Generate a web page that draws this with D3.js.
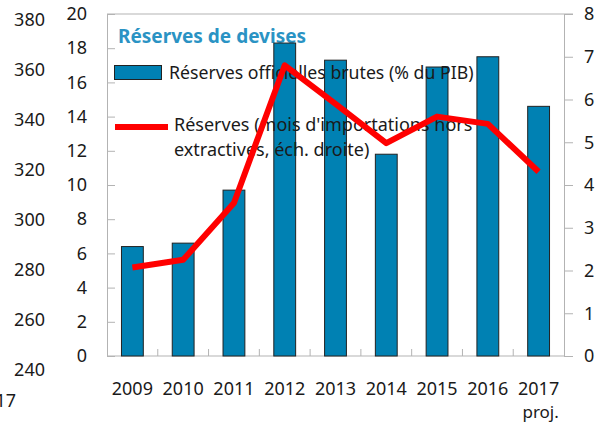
<!DOCTYPE html>
<html><head><meta charset="utf-8">
<script src="https://cdn.jsdelivr.net/npm/d3@7"></script>
<style>
html,body{margin:0;padding:0;background:#fff;}
svg{display:block;font-family:"Noto Sans",sans-serif;}
</style></head>
<body>
<svg id="c" width="597" height="425"></svg>
<script>
const years = ["2009","2010","2011","2012","2013","2014","2015","2016","2017"];
const reservesPIB = [6.4, 6.6, 9.7, 18.3, 17.3, 11.8, 16.9, 17.5, 14.6];
const reservesMois = [2.07, 2.25, 3.58, 6.8, 5.9, 4.98, 5.6, 5.43, 4.31];
const leftTicks = [0,2,4,6,8,10,12,14,16,18,20];
const rightTicks = [0,1,2,3,4,5,6,7,8];
const outerTicks = [240,260,280,300,320,340,360,380];
const title = "Réserves de devises";
const legendBar = "Réserves officielles brutes (% du PIB)";
const legendLine = ["Réserves (mois d'importations hors", "extractives, éch. droite)"];

const svg = d3.select("#c");
const L = 107, R = 564, T = 14, B = 356;
const x = d3.scaleBand().domain(years).range([L, R]).paddingInner(0.57).paddingOuter(0.285);
const xc = d3.scaleBand().domain(years).range([L, R]);
const yL = d3.scaleLinear().domain([0,20]).range([B, T]);
const yR = d3.scaleLinear().domain([0,8]).range([B, T]);
const yO = d3.scaleLinear().domain([240,380]).range([370, 20]);
const gray = "#b3b3b3", txt = "#1a1a1a";

// outer (cropped) axis labels
svg.append("g").selectAll("text").data(outerTicks).join("text")
  .attr("x", 45).attr("y", d => yO(d)).attr("dy", "0.35em")
  .attr("text-anchor", "end").attr("font-size", 18).attr("fill", txt).text(d => d);
svg.append("text").attr("x", 16).attr("y", 407).attr("text-anchor", "end")
  .attr("font-size", 18).attr("fill", txt).text("2017");

// frame
svg.append("line").attr("x1", L).attr("x2", R + 9).attr("y1", T).attr("y2", T).attr("stroke", gray);
// left axis
const gl = svg.append("g").attr("transform", `translate(${L},0)`)
  .call(d3.axisLeft(yL).tickValues(leftTicks).tickSize(-8).tickPadding(20));
gl.select(".domain").attr("stroke", gray);
gl.selectAll(".tick line").attr("stroke", gray);
gl.selectAll("text").attr("font-size", 18).attr("fill", txt).attr("font-family", "Noto Sans");
// right axis
const gr = svg.append("g").attr("transform", `translate(${R},0)`)
  .call(d3.axisRight(yR).tickValues(rightTicks).tickSize(9).tickPadding(11));
gr.select(".domain").attr("stroke", gray);
gr.selectAll(".tick line").attr("stroke", gray);
gr.selectAll("text").attr("font-size", 18).attr("fill", txt).attr("font-family", "Noto Sans");
// bottom axis
svg.append("line").attr("x1", L).attr("x2", R).attr("y1", B).attr("y2", B).attr("stroke", gray);
svg.append("g").selectAll("line").data(years.slice(1)).join("line")
  .attr("x1", d => xc(d)).attr("x2", d => xc(d)).attr("y1", B).attr("y2", B - 7).attr("stroke", gray);
svg.append("g").selectAll("text").data(years).join("text")
  .attr("x", d => xc(d) + xc.bandwidth()/2).attr("y", 395)
  .attr("text-anchor", "middle").attr("font-size", 18).attr("fill", txt).text(d => d);
svg.append("text").attr("x", xc("2017") + xc.bandwidth()/2 + 2).attr("y", 418)
  .attr("text-anchor", "middle").attr("font-size", 17).attr("fill", txt).text("proj.");

// legend title
svg.append("text").attr("x", 118).attr("y", 43).attr("font-size", 19).attr("font-weight", "bold")
  .attr("fill", "#2a93c4").text(title);

// bars
svg.append("g").selectAll("rect").data(years).join("rect")
  .attr("x", d => x(d)).attr("width", x.bandwidth())
  .attr("y", (d,i) => yL(reservesPIB[i])).attr("height", (d,i) => B - yL(reservesPIB[i]))
  .attr("fill", "#0081b3").attr("stroke", "#222").attr("stroke-width", 1);

// legend
svg.append("rect").attr("x", 114.5).attr("y", 65.5).attr("width", 47).attr("height", 14)
  .attr("fill", "#0081b3").attr("stroke", "#222");
svg.append("text").attr("x", 169).attr("y", 79).attr("font-size", 17.7).attr("fill", txt).text(legendBar);
svg.append("line").attr("x1", 115).attr("x2", 168).attr("y1", 127).attr("y2", 127)
  .attr("stroke", "#ff0000").attr("stroke-width", 6);
svg.append("g").selectAll("text").data(legendLine).join("text")
  .attr("x", 174).attr("y", (d,i) => 131 + i*25).attr("font-size", 18).attr("fill", txt).text(d => d);

// line
const line = d3.line().x((d,i) => xc(years[i]) + xc.bandwidth()/2).y(d => yR(d));
svg.append("path").datum(reservesMois).attr("d", line).attr("fill", "none")
  .attr("stroke", "#ff0000").attr("stroke-width", 6).attr("stroke-linejoin", "round");
</script>
</body></html>
